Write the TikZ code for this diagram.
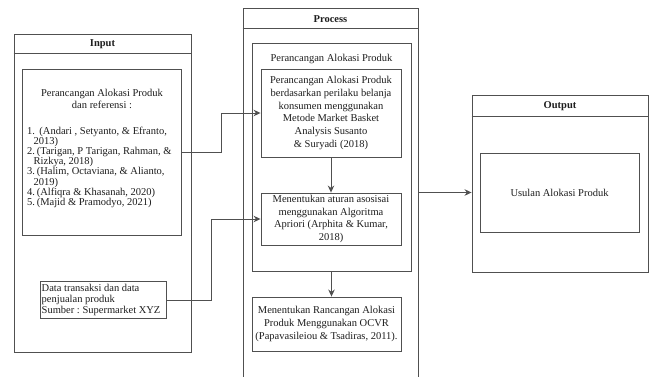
\documentclass[tikz,border=0pt]{standalone}
\usepackage{fontspec}
\setmainfont{Liberation Serif}
\usetikzlibrary{arrows.meta}
\definecolor{linec}{HTML}{505050}
\definecolor{txt}{HTML}{1E1E1E}
\newcommand{\fsz}{\fontsize{10.5}{12.8}\selectfont}
\begin{document}
\begin{tikzpicture}[x=1pt,y=-1pt,
  every node/.style={font=\fsz, text=txt},
  frame/.style={draw=linec, line width=0.9pt, inner sep=0pt, align=center},
  hdr/.style={font=\fsz\bfseries},
  conn/.style={draw=linec, line width=0.9pt},
  arr/.style={conn, -{Stealth[length=7pt,width=6.5pt]}},
]
\clip (0,0) rectangle (649,376);
\fill[white] (0,0) rectangle (649,376);

% ---------- Input ----------
\node[frame, minimum width=177pt, minimum height=318pt] (inp) at (102.5,193) {};
\draw[conn] ([yshift=-20pt]inp.north west) -- ([yshift=-20pt]inp.north east);
\node[hdr] (inph) at (102.5,44) {Input};

\node[frame, minimum width=159pt, minimum height=166pt] (ref) at (102,152) {};
\node[align=center, inner sep=0pt, font=\fontsize{10.5}{11.6}\selectfont] (reft) at (102,99)
  {Perancangan Alokasi Produk\\dan referensi :};
\node[anchor=north west, align=left, inner sep=0pt, font=\fontsize{10.5}{10.1}\selectfont] (refl) at (27,127)
  {\makebox[7pt][l]{1.}\ \ (Andari , Setyanto, \& Efranto,\\
   \hspace*{6.5pt}2013)\\
   \makebox[7pt][l]{2.}\ (Tarigan, P Tarigan, Rahman, \&\\
   \hspace*{6.5pt}Rizkya, 2018)\\
   \makebox[7pt][l]{3.}\ (Halim, Octaviana, \& Alianto,\\
   \hspace*{6.5pt}2019)\\
   \makebox[7pt][l]{4.}\ (Alfiqra \& Khasanah, 2020)\\
   \makebox[7pt][l]{5.}\ (Majid \& Pramodyo, 2021)};

\node[frame, minimum width=126pt, minimum height=36.5pt] (data) at (103,300) {};
\node[anchor=north west, align=left, inner sep=0pt, font=\fontsize{10.5}{11}\selectfont] (datat) at (41.5,284)
  {Data transaksi dan data\\penjualan produk\\Sumber :\ Supermarket\ XYZ};

% ---------- Process ----------
\node[frame, minimum width=175pt, minimum height=382pt] (proc) at (330.5,199) {};
\draw[conn] ([yshift=-21pt]proc.north west) -- ([yshift=-21pt]proc.north east);
\node[hdr] (proch) at (330.5,19) {Process};

\node[frame, minimum width=159pt, minimum height=228pt] (grp) at (331.5,157) {};
\node (grpt) at (331.5,59) {Perancangan Alokasi Produk};

\node[frame, minimum width=140pt, minimum height=88pt] (box1) at (331,113)
  {Perancangan Alokasi Produk\\berdasarkan perilaku belanja\\konsumen menggunakan\\Metode Market Basket\\Analysis Susanto\\\& Suryadi (2018)};
\node[frame, minimum width=140pt, minimum height=52pt] (box2) at (331,219)
  {Menentukan aturan asosisai\\menggunakan Algoritma\\Apriori (Arphita \& Kumar,\\2018)};
\node[frame, minimum width=149pt, minimum height=54pt] (box3) at (326.5,324)
  {Menentukan Rancangan Alokasi\\Produk Menggunakan OCVR\\(Papavasileiou \& Tsadiras, 2011).};

% ---------- Output ----------
\node[frame, minimum width=176pt, minimum height=177pt] (outp) at (560,183.5) {};
\draw[conn] ([yshift=-22pt]outp.north west) -- ([yshift=-22pt]outp.north east);
\node[hdr] (outh) at (560,106.5) {Output};
\node[frame, minimum width=159pt, minimum height=79pt] (outi) at (559.5,192.5) {Usulan Alokasi Produk};

% ---------- Connectors ----------
\coordinate (e1) at (221,0);
\coordinate (e2) at (211,0);
\draw[arr] (ref.east) -- (ref.east -| e1) |- (box1.west);
\draw[arr] (data.east) -- (data.east -| e2) |- (box2.west);
\draw[arr] (box1.south) -- (box2.north);
\draw[arr] (grp.south) -- (grp.south |- box3.north);
\draw[arr] (proc.east |- outi.center) -- (outp.west |- outi.center);
\end{tikzpicture}
\end{document}
